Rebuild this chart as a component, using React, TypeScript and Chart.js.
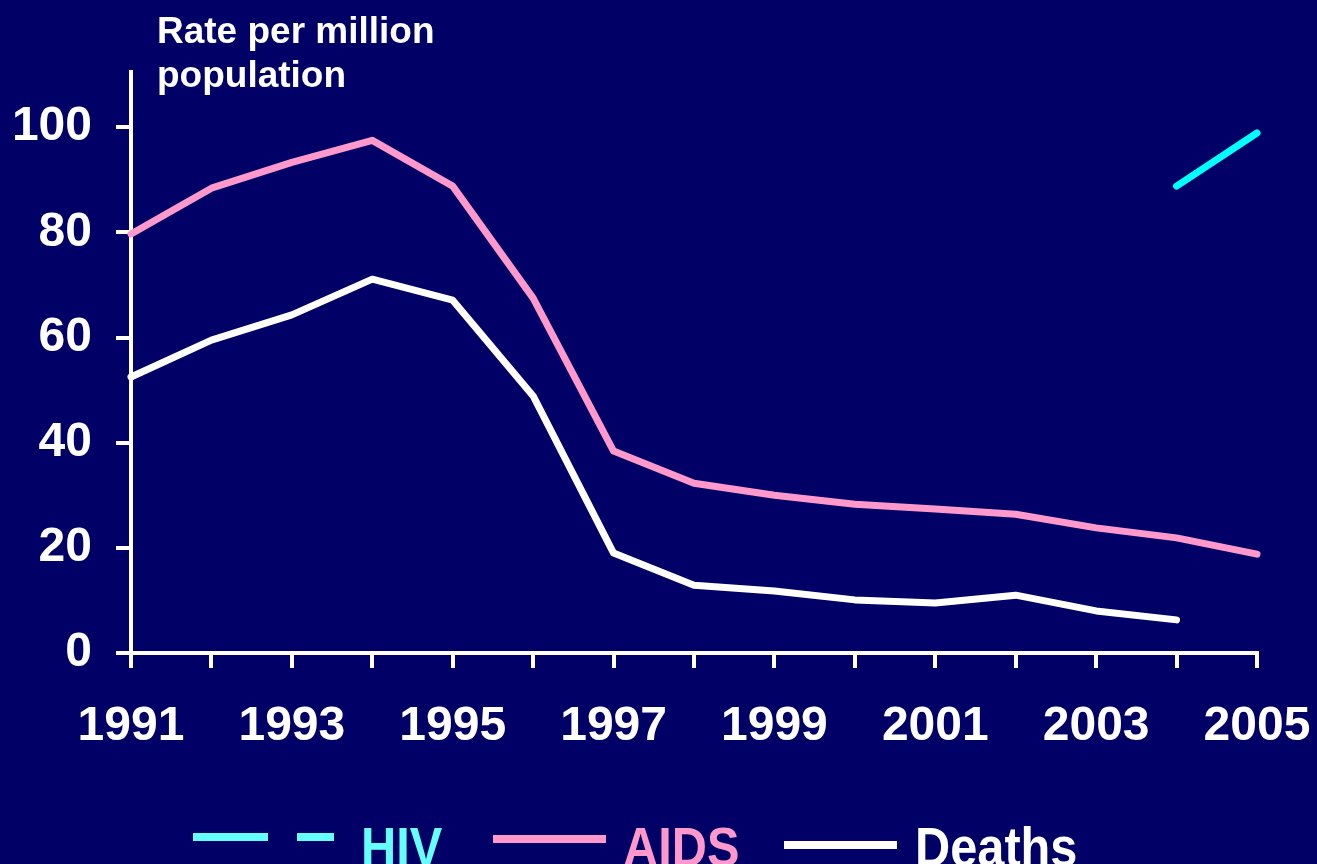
import React, { useEffect, useRef } from "react";
import { Chart, registerables } from "chart.js";

Chart.register(...registerables);

const years = [1991, 1992, 1993, 1994, 1995, 1996, 1997, 1998, 1999, 2000, 2001, 2002, 2003, 2004, 2005];
const aids = [79.7, 88.4, 93.3, 97.5, 88.8, 67.5, 38.4, 32.3, 30.0, 28.3, 27.4, 26.4, 23.8, 21.9, 18.8];
const deathYears = [1991, 1992, 1993, 1994, 1995, 1996, 1997, 1998, 1999, 2000, 2001, 2002, 2003, 2004];
const deaths = [52.5, 59.5, 64.3, 71.1, 67.1, 48.9, 19.0, 12.9, 11.8, 10.1, 9.5, 11.0, 8.0, 6.3];
const hivYears = [2004, 2005];
const hiv = [88.8, 98.9];
const yTicks = [0, 20, 40, 60, 80, 100];
const titleLines = ["Rate per million", "population"];
const legendLabels = ["HIV", "AIDS", "Deaths"];

const BG = "#000066";
const FONT = "'Liberation Sans', Arial, sans-serif";

export default function App() {
  const ref = useRef<HTMLCanvasElement | null>(null);

  useEffect(() => {
    document.body.style.margin = "0";
    document.body.style.background = BG;
    const canvas = ref.current!;
    const decor = {
      id: "decor",
      beforeDraw(chart: any) {
        const ctx = chart.ctx;
        ctx.save();
        ctx.fillStyle = BG;
        ctx.fillRect(0, 0, chart.width, chart.height);
        ctx.restore();
      },
      afterDraw(chart: any) {
        const ctx = chart.ctx;
        ctx.save();
        // title
        ctx.fillStyle = "#ffffff";
        ctx.font = `bold 37px ${FONT}`;
        ctx.textBaseline = "alphabetic";
        ctx.textAlign = "left";
        ctx.fillText(titleLines[0], 157, 43);
        ctx.fillText(titleLines[1], 157, 87);

        // legend
        ctx.lineCap = "butt";
        ctx.lineWidth = 8;
        ctx.strokeStyle = "#66ffff";
        ctx.beginPath();
        ctx.moveTo(193, 837); ctx.lineTo(268, 837);
        ctx.moveTo(297, 837); ctx.lineTo(334, 837);
        ctx.stroke();
        ctx.strokeStyle = "#ff99cc";
        ctx.beginPath();
        ctx.moveTo(493, 839); ctx.lineTo(606, 839);
        ctx.stroke();
        ctx.strokeStyle = "#ffffff";
        ctx.beginPath();
        ctx.moveTo(784, 845); ctx.lineTo(897, 845);
        ctx.stroke();

        const drawText = (t: string, x: number, color: string) => {
          ctx.save();
          ctx.translate(x, 866);
          ctx.scale(0.87, 1);
          ctx.fillStyle = color;
          ctx.font = `bold 56px ${FONT}`;
          ctx.fillText(t, 0, 0);
          ctx.restore();
        };
        drawText(legendLabels[0], 361, "#66ffff");
        drawText(legendLabels[1], 623, "#ff99cc");
        drawText(legendLabels[2], 915, "#ffffff");
        ctx.restore();
      },
    };

    const lineStyle = {
      borderWidth: 7,
      pointRadius: 0,
      borderCapStyle: "round",
      borderJoinStyle: "round",
      clip: 20,
    };

    const chart = new Chart(canvas, {
      type: "line",
      data: {
        datasets: [
          {
            label: "HIV",
            data: hivYears.map((x, i) => ({ x, y: hiv[i] })),
            borderColor: "#00ffff",
            ...lineStyle,
          },
          {
            label: "AIDS",
            data: years.map((x, i) => ({ x, y: aids[i] })),
            borderColor: "#ff99cc",
            ...lineStyle,
          },
          {
            label: "Deaths",
            data: deathYears.map((x, i) => ({ x, y: deaths[i] })),
            borderColor: "#ffffff",
            ...lineStyle,
          },
        ],
      },
      options: {
        responsive: false,
        animation: false,
        devicePixelRatio: 1,
        layout: { padding: { top: 72, right: 60, left: 0, bottom: 0 } },
        plugins: { legend: { display: false }, tooltip: { enabled: false } },
        scales: {
          x: {
            type: "linear",
            min: 1991,
            max: 2005,
            afterFit: (s: any) => {
              s.height = 211;
              s.paddingLeft = 0;
              s.paddingRight = 0;
            },
            afterBuildTicks: (s: any) => { s.ticks = years.map((v) => ({ value: v })); },
            ticks: {
              autoSkip: false,
              maxRotation: 0,
              stepSize: 1,
              color: "#ffffff",
              font: { family: FONT, size: 48, weight: "bold" },
              padding: 30,
              callback: (v: any) => ((Number(v) - 1991) % 2 === 0 ? String(v) : ""),
            },
            grid: { drawOnChartArea: false, drawTicks: true, tickLength: 15, color: "#ffffff", lineWidth: 4 },
            border: { display: true, color: "#ffffff", width: 4 },
          },
          y: {
            type: "linear",
            min: 0,
            max: 110.5,
            afterFit: (s: any) => {
              s.width = 131;
              s.paddingTop = 0;
              s.paddingBottom = 0;
            },
            afterBuildTicks: (s: any) => { s.ticks = yTicks.map((v) => ({ value: v })); },
            ticks: {
              color: "#ffffff",
              font: { family: FONT, size: 48, weight: "bold" },
              padding: 24,
            },
            grid: { drawOnChartArea: false, drawTicks: true, tickLength: 15, color: "#ffffff", lineWidth: 4 },
            border: { display: true, color: "#ffffff", width: 4 },
          },
        },
      },
      plugins: [decor],
    } as any);
    return () => chart.destroy();
  }, []);

  return (
    <div style={{ width: 1317, height: 864, background: BG }}>
      <canvas ref={ref} width={1317} height={864} style={{ display: "block", width: 1317, height: 864 }} />
    </div>
  );
}
